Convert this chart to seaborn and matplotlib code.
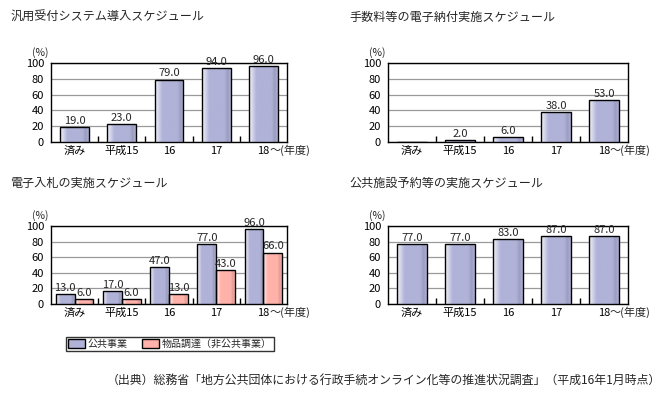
import numpy as np
import pandas as pd
import matplotlib
matplotlib.use("Agg")
import matplotlib.pyplot as plt
from matplotlib.patches import Rectangle
from matplotlib.colors import LinearSegmentedColormap
import seaborn as sns

categories = ["済み", "平成15", "16", "17", "18"]
last_suffix = "～(年度)"
panel1_vals = [19.0, 23.0, 79.0, 94.0, 96.0]
panel2_vals = [0.0, 2.0, 6.0, 38.0, 53.0]
panel3_public = [13.0, 17.0, 47.0, 77.0, 96.0]
panel3_goods = [6.0, 6.0, 13.0, 43.0, 66.0]
panel4_vals = [77.0, 77.0, 83.0, 87.0, 87.0]

titles = ["汎用受付システム導入スケジュール", "手数料等の電子納付実施スケジュール",
          "電子入札の実施スケジュール", "公共施設予約等の実施スケジュール"]
series_names = ["公共事業", "物品調達（非公共事業）"]
yticks = [0, 20, 40, 60, 80, 100]
source = "（出典）総務省「地方公共団体における行政手続オンライン化等の推進状況調査」（平成16年1月時点）"

BLUE = "#b0b2d8"
PINK = "#ffb2aa"

sns.set_theme(style="white")
plt.rcParams["font.family"] = ["Noto Sans CJK JP", "DejaVu Sans"]

W, H = 672, 397
fig = plt.figure(figsize=(W / 100, H / 100), dpi=100)

def ax_at(l, t, r, b):
    return fig.add_axes([l / W, 1 - b / H, (r - l) / W, (b - t) / H])

def gradient_fill(ax, patch, color):
    base = np.array(matplotlib.colors.to_rgb(color))
    light = base + (1 - base) * 0.85
    dark = base * 0.88
    cmap = LinearSegmentedColormap.from_list(
        "g", [(0, light), (0.25, base), (0.78, base), (0.9, dark), (1.0, base)])
    x0, y0 = patch.get_x(), patch.get_y()
    w, h = patch.get_width(), patch.get_height()
    if h <= 0:
        return
    grad = np.linspace(0, 1, 64).reshape(1, -1)
    im = ax.imshow(grad, cmap=cmap, aspect="auto",
                   extent=(x0, x0 + w, y0, y0 + h), zorder=patch.get_zorder() + 0.1,
                   interpolation="bilinear")
    im.set_clip_path(patch)
    patch.set_facecolor("none")
    patch.set_zorder(patch.get_zorder() + 0.2)

def style_axes(ax):
    ax.set_xlim(-0.5, 4.5)
    ax.set_ylim(0, 100)
    ax.set_yticks(yticks)
    ax.set_yticklabels([str(v) for v in yticks], fontsize=8)
    ax.set_xticks(range(len(categories)))
    ax.set_xticklabels(categories, fontsize=8)
    ax.annotate(last_suffix, xy=(len(categories) - 1, 0),
                xycoords=("data", "axes fraction"), xytext=(6, -3),
                textcoords="offset pixels", ha="left", va="top", fontsize=8)
    ax.set_xlabel("")
    ax.set_ylabel("")
    for s in ax.spines.values():
        s.set_color("black")
        s.set_linewidth(1)
    ax.grid(axis="y", color="#9a9a9a", linewidth=0.9)
    ax.set_axisbelow(True)
    ax.tick_params(axis="x", which="major", length=0, pad=3, colors="black")
    ax.tick_params(axis="y", which="major", length=0, pad=5, colors="black")
    ax.set_xticks([0.5, 1.5, 2.5, 3.5], minor=True)
    ax.tick_params(axis="x", which="minor", direction="in", length=4, width=1,
                   color="black", bottom=True)
    ax.text(-0.012, 1.06, "(%)", transform=ax.transAxes, fontsize=7.5,
            ha="right", va="bottom")

def label_bars(ax, fontsize=8):
    for p in ax.patches:
        h = p.get_height()
        if h <= 0:
            continue
        ax.text(p.get_x() + p.get_width() / 2, h + 1.5, f"{h:.1f}",
                ha="center", va="bottom", fontsize=fontsize, zorder=5)

def single_panel(ax, vals, color):
    df = pd.DataFrame({"cat": categories, "val": vals})
    sns.barplot(data=df, x="cat", y="val", color=color, saturation=1,
                width=0.61, edgecolor="black", linewidth=1, ax=ax, zorder=3)
    for p in list(ax.patches):
        gradient_fill(ax, p, color)
    label_bars(ax)
    style_axes(ax)

# panel positions (pixels): left, top, right, bottom
ax1 = ax_at(51, 63, 287, 142)
ax2 = ax_at(388, 63, 628, 142)
ax3 = ax_at(51, 226, 287, 304)
ax4 = ax_at(388, 226, 628, 304)

single_panel(ax1, panel1_vals, BLUE)
single_panel(ax2, panel2_vals, BLUE)
single_panel(ax4, panel4_vals, BLUE)

df3 = pd.DataFrame({
    "cat": categories * 2,
    "val": panel3_public + panel3_goods,
    "series": [series_names[0]] * 5 + [series_names[1]] * 5,
})
sns.barplot(data=df3, x="cat", y="val", hue="series", palette=[BLUE, PINK],
            saturation=1, width=0.8, gap=0, edgecolor="black", linewidth=1,
            ax=ax3, zorder=3, legend=False)
bars = list(ax3.patches)
for i, p in enumerate(bars):
    gradient_fill(ax3, p, BLUE if i < 5 else PINK)
label_bars(ax3)
style_axes(ax3)

# titles
fig.text(10 / W, 1 - 17 / H, titles[0], fontsize=8.7, va="center", ha="left")
fig.text(349 / W, 1 - 17 / H, titles[1], fontsize=8.7, va="center", ha="left")
fig.text(10 / W, 1 - 183 / H, titles[2], fontsize=8.7, va="center", ha="left")
fig.text(349 / W, 1 - 183 / H, titles[3], fontsize=8.7, va="center", ha="left")

handles = [Rectangle((0, 0), 1, 1, facecolor=BLUE, edgecolor="black", linewidth=1),
           Rectangle((0, 0), 1, 1, facecolor=PINK, edgecolor="black", linewidth=1)]
leg = fig.legend(handles, series_names, loc="center", bbox_to_anchor=(170 / W, 1 - 344 / H),
                 ncol=2, fontsize=7.2, frameon=True, fancybox=False, handlelength=1.7,
                 handleheight=0.9, handletextpad=0.3, columnspacing=1.4,
                 borderpad=0.2, borderaxespad=0)
leg.get_frame().set_edgecolor("black")
leg.get_frame().set_linewidth(1)

fig.text(661 / W, 1 - 380 / H, source, fontsize=8.6, ha="right", va="center")

fig.savefig("out.png", dpi=100)
